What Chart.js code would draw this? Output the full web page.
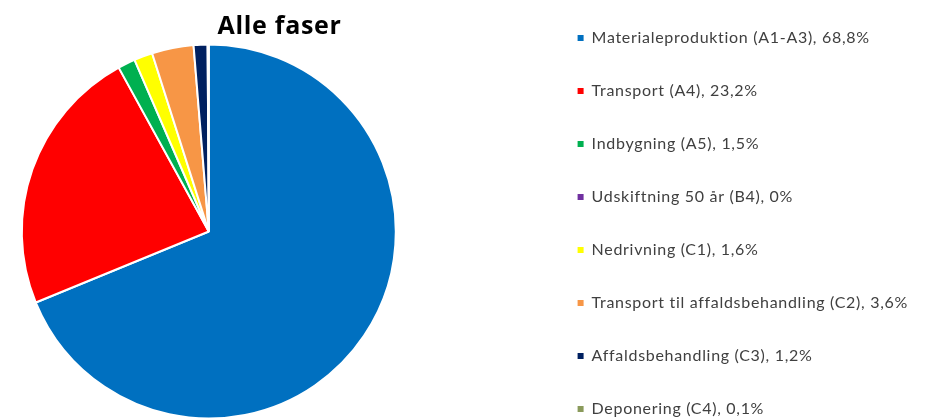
<!DOCTYPE html>
<html>
<head>
<meta charset="utf-8">
<script src="https://cdn.jsdelivr.net/npm/chart.js@4"></script>
<style>
  html, body { margin: 0; padding: 0; background: #fff; overflow: hidden; }
  #frame { position: relative; width: 926px; height: 419px; overflow: hidden; background: #fff; }
  #chart { position: absolute; top: 0; display: block; }
</style>
</head>
<body>
<div id="frame"><canvas id="chart"></canvas></div>
<script>
// Life-cycle phases and their share of the total (percent)
const chartTitle = 'Alle faser';
const phases = [
  'Materialeproduktion (A1-A3)',
  'Transport (A4)',
  'Indbygning (A5)',
  'Udskiftning 50 år (B4)',
  'Nedrivning (C1)',
  'Transport til affaldsbehandling (C2)',
  'Affaldsbehandling (C3)',
  'Deponering (C4)'
];
const shares = [68.8, 23.2, 1.5, 0, 1.6, 3.6, 1.2, 0.1];
const phaseColors = ['#0070C0', '#FF0000', '#00B050', '#7030A0', '#FFFF00', '#F79646', '#002060', '#8A9A5B'];

// Danish number format: decimal comma
const fmtShare = v => String(v).replace('.', ',') + '%';
const legendLabels = phases.map((p, i) => p + ', ' + fmtShare(shares[i]));

// The canvas is wider than the frame and slid left, so the pie sits
// near the left edge while the legend keeps the right-hand side.
const FRAME_W = 926, CANVAS_SHIFT = 123, CANVAS_H = 456;
const canvas = document.getElementById('chart');
canvas.width = FRAME_W + CANVAS_SHIFT;
canvas.height = CANVAS_H;
canvas.style.left = (-CANVAS_SHIFT) + 'px';

// Slightly open letter spacing for the text
const textSpacing = {
  id: 'textSpacing',
  beforeUpdate(chart) { chart.ctx.letterSpacing = '0.7px'; },
  beforeDraw(chart) { chart.ctx.letterSpacing = '0.7px'; }
};

// Centre the title over the visible area left of the legend entries
const titleOverPlotSide = {
  id: 'titleOverPlotSide',
  afterLayout(chart) {
    const t = chart.titleBlock, lg = chart.legend;
    if (!t || !lg) return;
    t.left = CANVAS_SHIFT;
    t.right = lg.left + lg.options.labels.padding / 2;
    t.width = t.right - t.left;
  }
};

const pieLegendLabels = Chart.overrides.pie.plugins.legend.labels.generateLabels;

new Chart(canvas, {
  type: 'pie',
  data: {
    labels: legendLabels,
    datasets: [{
      data: shares,
      backgroundColor: phaseColors,
      borderColor: '#ffffff',
      borderWidth: 2,
      radius: 187
    }]
  },
  plugins: [textSpacing, titleOverPlotSide],
  options: {
    responsive: false,
    animation: false,
    layout: { padding: { top: -7, right: 8, bottom: 0, left: 0 } },
    plugins: {
      tooltip: { enabled: false },
      title: {
        display: true,
        text: chartTitle,
        fullSize: false,
        color: '#000000',
        font: { family: 'Open Sans', size: 25, weight: 'bold', lineHeight: 1.2 },
        padding: { top: 19, bottom: -35 }
      },
      legend: {
        position: 'right',
        align: 'start',
        labels: {
          boxWidth: 6,
          boxHeight: 6,
          padding: 37,
          color: '#404040',
          font: { family: 'Lato', size: 16 },
          generateLabels(chart) {
            return pieLegendLabels(chart).map(item => Object.assign(item, { lineWidth: 0 }));
          }
        }
      }
    }
  }
});
</script>
</body>
</html>
